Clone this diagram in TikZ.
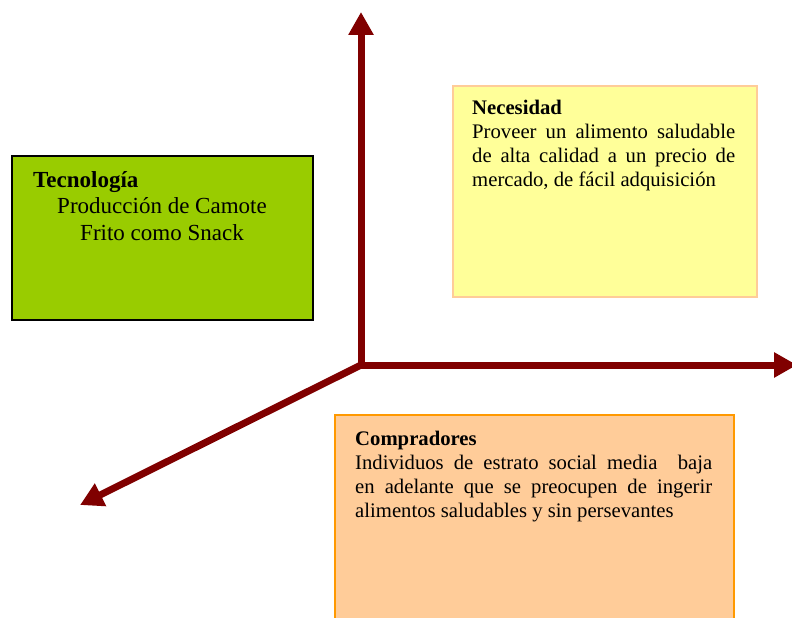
\documentclass[tikz,border=0pt]{standalone}
\usepackage{fontspec}
\setmainfont{Liberation Serif}
\usetikzlibrary{arrows.meta}
\definecolor{axisred}{HTML}{800000}
\definecolor{tecfill}{HTML}{99CC00}
\definecolor{necfill}{HTML}{FFFF99}
\definecolor{necdraw}{HTML}{FFCC99}
\definecolor{compfill}{HTML}{FFCC99}
\definecolor{compdraw}{HTML}{FF9900}
\begin{document}
\begin{tikzpicture}[x=1pt,y=-1pt,
  box/.style={rectangle, anchor=north west, inner sep=0pt, line width=2pt},
  bigtext/.style={inner sep=0pt, font=\fontsize{23}{27}\selectfont},
  smalltext/.style={inner sep=0pt, anchor=north west, align=justify, font=\fontsize{20.7}{24}\selectfont},
  axis/.style={draw=axisred, line width=7pt, line join=miter},
  axhead/.tip={Triangle[length=23pt,width=24pt]}]
\useasboundingbox (0,0) rectangle (792,618);
% boxes
\node[box, draw=black, fill=tecfill, minimum width=301pt, minimum height=164pt] (tec) at (11,155) {};
\node[box, draw=necdraw, fill=necfill, minimum width=304pt, minimum height=211pt] (nec) at (452,85) {};
\node[box, draw=compdraw, fill=compfill, minimum width=399pt, minimum height=230pt] (comp) at (334,414) {};
% texts
\node[bigtext, anchor=base west] (tech) at (33,187) {\textbf{Tecnología}};
\node[bigtext, anchor=north, align=center] (tecb) at (162,197) {Producción de Camote\\Frito como Snack};
\node[smalltext, text width=263pt] (nect) at (472,99.5) {\noindent\textbf{Necesidad}\par\noindent Proveer un alimento saludable\linebreak de alta calidad a un precio de\linebreak mercado, de fácil adquisición};
\node[smalltext, text width=357pt] (compt) at (355,431) {\noindent\textbf{Compradores}\par\noindent Individuos de estrato social media\ \ baja\linebreak en adelante que se preocupen de ingerir\linebreak alimentos saludables y sin persevantes};
% axes
\coordinate (O) at (361,365);
\coordinate (up) at (361,12);
\coordinate (rt) at (797,365);
\coordinate (dl) at (80,505);
\draw[axis, axhead-axhead] (up) -- (O) -- (rt);
\draw[axis, -axhead] (O) -- (dl);
\end{tikzpicture}
\end{document}
